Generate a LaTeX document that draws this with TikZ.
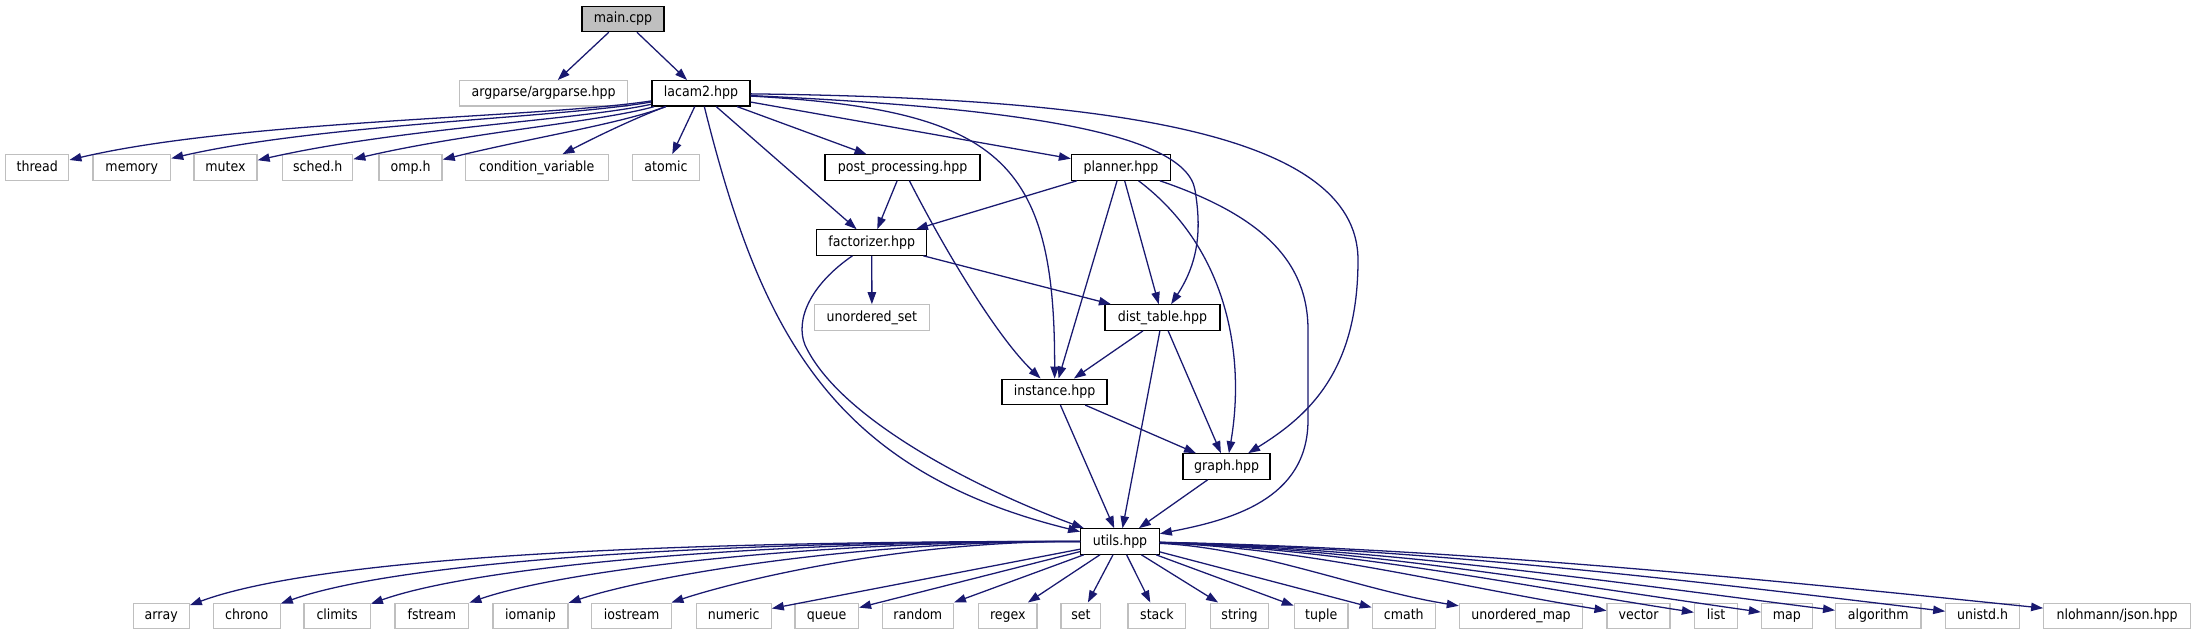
\documentclass[tikz,border=0pt]{standalone}
\usepackage{fontspec}
\setmainfont{DejaVu Sans Condensed}
\usetikzlibrary{arrows.meta}
\definecolor{edgec}{HTML}{191970}
\definecolor{extc}{HTML}{BFBFBF}
\definecolor{mainfill}{HTML}{BFBFBF}
\begin{document}
\begin{tikzpicture}[x=0.5pt,y=-0.5pt,
  box/.style={draw=black, line width=0.64pt, fill=white, inner sep=0pt, minimum height=12.65pt,
    font=\fontsize{7}{8}\selectfont, text height=5.1pt, text depth=1.5pt},
  ext/.style={box, draw=extc},
  mainbox/.style={box, fill=mainfill},
  edge/.style={draw=edgec, line width=0.64pt, -{Triangle[length=6pt,width=4.2pt]}},
]
\useasboundingbox (0,0) rectangle (2196,635);
% top
\node[mainbox, minimum width=41pt] (main) at (623,19) {main.cpp};
\node[ext, minimum width=84pt] (argparse) at (543.6,93.3) {argparse/argparse.hpp};
\node[box, minimum width=49pt] (lacam) at (701,93.3) {lacam2.hpp};
% row 3
\node[ext, minimum width=31.5pt] (thread) at (37.3,167.5) {thread};
\node[ext, minimum width=38.8pt] (memory) at (131.8,167.5) {memory};
\node[ext, minimum width=31.5pt] (mutex) at (225.5,167.5) {mutex};
\node[ext, minimum width=35pt] (sched) at (317.7,167.5) {sched.h};
\node[ext, minimum width=31.5pt] (omp) at (410.6,167.5) {omp.h};
\node[ext, minimum width=71.5pt] (condvar) at (536.8,167.5) {condition\_variable};
\node[ext, minimum width=33.5pt] (atomic) at (666,167.5) {atomic};
\node[box, minimum width=77.5pt] (post) at (902.6,167.5) {post\_processing.hpp};
\node[box, minimum width=49.5pt] (planner) at (1121,167.5) {planner.hpp};
% middle
\node[box, minimum width=55pt] (factorizer) at (871.8,242.5) {factorizer.hpp};
\node[ext, minimum width=57.5pt] (uset) at (871.9,317.5) {unordered\_set};
\node[box, minimum width=57.5pt] (dist) at (1162.4,317.5) {dist\_table.hpp};
\node[box, minimum width=52.5pt] (instance) at (1054.6,391.8) {instance.hpp};
\node[box, minimum width=43.5pt] (graph) at (1226.6,466.5) {graph.hpp};
\node[box, minimum width=39.25pt] (utils) at (1120,541.5) {utils.hpp};
% bottom row
\node[ext, minimum width=28pt] (array) at (161.2,615.8) {array};
\node[ext, minimum width=33.5pt] (chrono) at (246.7,615.8) {chrono};
\node[ext, minimum width=33.2pt] (climits) at (337.1,615.8) {climits};
\node[ext, minimum width=36.85pt] (fstream) at (431.9,615.8) {fstream};
\node[ext, minimum width=37.5pt] (iomanip) at (530.5,615.8) {iomanip};
\node[ext, minimum width=40.25pt] (iostream) at (631.6,615.8) {iostream};
\node[ext, minimum width=37.5pt] (numeric) at (733.7,615.8) {numeric};
\node[ext, minimum width=31.75pt] (queue) at (826.7,615.8) {queue};
\node[ext, minimum width=35.65pt] (random) at (917.8,615.8) {random};
\node[ext, minimum width=29.1pt] (regex) at (1007.8,615.8) {regex};
\node[ext, minimum width=19.9pt] (set) at (1080.9,615.8) {set};
\node[ext, minimum width=28.85pt] (stack) at (1156.9,615.8) {stack};
\node[ext, minimum width=29.05pt] (string) at (1239.5,615.8) {string};
\node[ext, minimum width=26.85pt] (tuple) at (1321.2,615.8) {tuple};
\node[ext, minimum width=31.5pt] (cmath) at (1403.8,615.8) {cmath};
\node[ext, minimum width=61.7pt] (umap) at (1521.1,615.8) {unordered\_map};
\node[ext, minimum width=31.5pt] (vector) at (1638.6,615.8) {vector};
\node[ext, minimum width=21.5pt] (list) at (1716,615.8) {list};
\node[ext, minimum width=25.4pt] (map) at (1786.9,615.8) {map};
\node[ext, minimum width=42.65pt] (algorithm) at (1878.3,615.8) {algorithm};
\node[ext, minimum width=36.8pt] (unistd) at (1982.6,615.8) {unistd.h};
\node[ext, minimum width=73.35pt] (json) at (2117.1,615.8) {nlohmann/json.hpp};
% waypoints
\coordinate (ldt) at (1195,190);
\coordinate (lg) at (1358,260);
\coordinate (pu1) at (1308,330);
\coordinate (pu2) at (1308,420);
\coordinate (fu) at (805,345);
% edges from main
\draw[edge] (main) -- (argparse);
\draw[edge] (main) -- (lacam);
% edges from lacam2
\draw[edge] (lacam) .. controls (540,118) and (240,120) .. (thread);
\draw[edge] (lacam) .. controls (560,118) and (320,124) .. (memory);
\draw[edge] (lacam) .. controls (580,120) and (400,128) .. (mutex);
\draw[edge] (lacam) .. controls (600,122) and (470,132) .. (sched);
\draw[edge] (lacam) .. controls (620,124) and (530,138) .. (omp);
\draw[edge] (lacam) .. controls (630,120) and (590,140) .. (condvar);
\draw[edge] (lacam) -- (atomic);
\draw[edge] (lacam) -- (post);
\draw[edge] (lacam) -- (planner);
\draw[edge] (lacam) -- (factorizer);
\draw[edge] (lacam) .. controls (1000,110) and (1055,160) .. (instance);
\draw[edge] (lacam) .. controls (1000,107) and (1185,130) .. (ldt) .. controls (1201,226) and (1200,260) .. (dist);
\draw[edge] (lacam) .. controls (1100,98) and (1358,130) .. (lg) .. controls (1358,370) and (1310,415) .. (graph);
\draw[edge] (lacam) .. controls (760,330) and (830,470) .. (utils);
% post_processing
\draw[edge] (post) -- (factorizer);
\draw[edge] (post) .. controls (950,260) and (1000,340) .. (instance);
% planner
\draw[edge] (planner) -- (factorizer);
\draw[edge] (planner) -- (instance);
\draw[edge] (planner) -- (dist);
\draw[edge] (planner) .. controls (1230,250) and (1245,360) .. (graph);
\draw[edge] (planner) .. controls (1260,215) and (1308,260) .. (pu1) -- (pu2) .. controls (1308,500) and (1230,520) .. (utils);
% factorizer
\draw[edge] (factorizer) -- (uset);
\draw[edge] (factorizer) -- (dist);
\draw[edge] (factorizer) .. controls (810,285) and (795,320) .. (fu) .. controls (840,420) and (980,490) .. (utils);
% dist_table
\draw[edge] (dist) -- (instance);
\draw[edge] (dist) -- (graph);
\draw[edge] (dist) -- (utils);
% instance
\draw[edge] (instance) -- (graph);
\draw[edge] (instance) -- (utils);
% graph
\draw[edge] (graph) -- (utils);
% utils fan, left
\draw[edge] (utils) .. controls (680,541) and (323,556) .. (array);
\draw[edge] (utils) .. controls (720,541) and (400,561) .. (chrono);
\draw[edge] (utils) .. controls (761,541) and (477,566) .. (climits);
\draw[edge] (utils) .. controls (805,541) and (560,571) .. (fstream);
\draw[edge] (utils) .. controls (850,541) and (645,577) .. (iomanip);
\draw[edge] (utils) .. controls (897,541) and (733,582) .. (iostream);
\draw[edge] (utils) -- (numeric);
\draw[edge] (utils) -- (queue);
\draw[edge] (utils) -- (random);
\draw[edge] (utils) -- (regex);
\draw[edge] (utils) -- (set);
\draw[edge] (utils) -- (stack);
\draw[edge] (utils) -- (string);
\draw[edge] (utils) -- (tuple);
\draw[edge] (utils) -- (cmath);
% utils fan, right
\draw[edge] (utils) .. controls (1258,548) and (1360,590) .. (umap);
\draw[edge] (utils) .. controls (1307,548) and (1459,587) .. (vector);
\draw[edge] (utils) .. controls (1336,548) and (1518,585) .. (list);
\draw[edge] (utils) .. controls (1358,548) and (1563,584) .. (map);
\draw[edge] (utils) .. controls (1382,548) and (1612,582) .. (algorithm);
\draw[edge] (utils) .. controls (1419,548) and (1686,580) .. (unistd);
\draw[edge] (utils) .. controls (1451,548) and (1752,578) .. (json);
\end{tikzpicture}
\end{document}
